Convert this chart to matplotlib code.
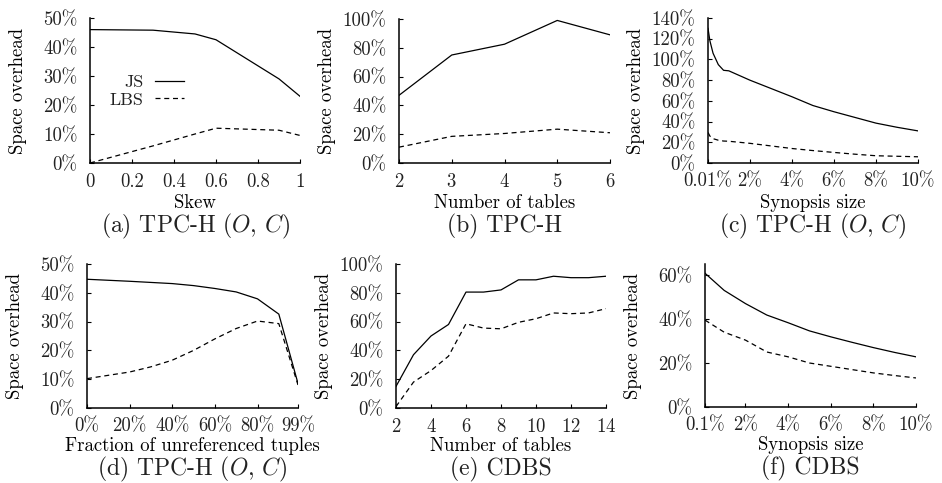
import numpy as np
import matplotlib
matplotlib.use("Agg")
import matplotlib.pyplot as plt

plt.rcParams.update({"font.family": "serif", "font.serif": ["cmr10", "DejaVu Serif"],
                     "mathtext.fontset": "cm", "axes.unicode_minus": False,
                     "axes.formatter.use_mathtext": True, "font.size": 13.5,
                     "axes.linewidth": 1.1, "xtick.direction": "in", "ytick.direction": "in",
                     "xtick.major.size": 3, "ytick.major.size": 3,
                     "xtick.major.width": 0.8, "ytick.major.width": 0.8,
                     "text.color": "#222222", "xtick.labelcolor": "#222222",
                     "ytick.labelcolor": "#222222"})

# ---- data (percent) ----
skew = [0, 0.3, 0.5, 0.6, 0.9, 1.0]
skew_js = [46, 45.8, 44.5, 42.5, 29, 23]
skew_lbs = [0, 5.9, 10, 12, 11.3, 9.5]

ntab_h = [2, 3, 4, 5, 6]
ntab_h_js = [47, 75, 82.5, 99, 89]
ntab_h_lbs = [11, 18.5, 20.5, 23.5, 21]

syn_h = [0.01, 0.1, 0.25, 0.5, 0.75, 1, 2, 3, 4, 5, 6, 7, 8, 9, 10]
syn_h_js = [130, 118, 106, 95, 89.5, 89, 80, 72, 64, 55.5, 49.5, 44, 38.5, 34.5, 31]
syn_h_lbs = [29.5, 26, 23.5, 22, 21.2, 21, 19, 16.5, 14, 12, 10.2, 8.5, 7, 6.5, 6]

unref = [0, 20, 30, 40, 50, 60, 70, 80, 90, 99]
unref_js = [44.7, 44, 43.6, 43.2, 42.5, 41.5, 40.3, 37.9, 32.6, 8.5]
unref_lbs = [10.2, 12.5, 14.3, 16.6, 20, 24, 27.6, 30.2, 29.3, 8]

ntab_c = [2, 3, 4, 5, 6, 7, 8, 9, 10, 11, 12, 13, 14]
ntab_c_js = [15, 37, 50, 58, 80.5, 80.5, 82, 89, 89, 91.5, 90.5, 90.5, 91.5]
ntab_c_lbs = [1, 18, 26, 36, 58.5, 55.5, 55, 59.5, 62, 66, 65.5, 66, 69]

syn_c = [0.1, 1, 2, 3, 4, 5, 6, 7, 8, 9, 10]
syn_c_js = [60.8, 53, 47, 41.8, 38.3, 34.6, 31.9, 29.4, 27, 24.8, 22.8]
syn_c_lbs = [39.5, 34, 30.4, 25, 22.8, 20, 18.5, 17, 15.5, 14.3, 13.2]

W, H = 942, 483
panels = [
    # x, js, lbs, (l, r, top, bottom px), xlim, ylim, xticks, xticklabels, yticks, xlabel, caption,
    # xlabel offset, caption offset (px below axis)
    (skew, skew_js, skew_lbs, (90, 300, 18, 163), (0, 1), (0, 50),
     [0, 0.2, 0.4, 0.6, 0.8, 1], ["0", "0.2", "0.4", "0.6", "0.8", "1"],
     range(0, 51, 10), "Skew", "(a) TPC-H ($O$, $C$)", 40, 63),
    (ntab_h, ntab_h_js, ntab_h_lbs, (399, 610, 19, 163), (2, 6), (0, 100),
     [2, 3, 4, 5, 6], None, range(0, 101, 20), "Number of tables", "(b) TPC-H", 40, 63),
    (syn_h, syn_h_js, syn_h_lbs, (708, 918, 18, 163), (0.01, 10), (0, 140),
     [0.01, 2, 4, 6, 8, 10], ["0.01%", "2%", "4%", "6%", "8%", "10%"],
     range(0, 141, 20), "Synopsis size", "(c) TPC-H ($O$, $C$)", 40, 63),
    (unref, unref_js, unref_lbs, (87, 298, 264, 408), (0, 99), (0, 50),
     [0, 20, 40, 60, 80, 99], ["0%", "20%", "40%", "60%", "80%", "99%"],
     range(0, 51, 10), "Fraction of unreferenced tuples", "(d) TPC-H ($O$, $C$)", 38, 61),
    (ntab_c, ntab_c_js, ntab_c_lbs, (396, 606, 264, 408), (2, 14), (0, 100),
     [2, 4, 6, 8, 10, 12, 14], None, range(0, 101, 20), "Number of tables", "(e) CDBS", 38, 61),
    (syn_c, syn_c_js, syn_c_lbs, (705, 916, 264, 407), (0.1, 10), (0, 65),
     [0.1, 2, 4, 6, 8, 10], ["0.1%", "2%", "4%", "6%", "8%", "10%"],
     range(0, 61, 20), "Synopsis size", "(f) CDBS", 38, 61),
]

fig = plt.figure(figsize=(W / 100, H / 100), dpi=100)
for k, (x, js, lbs, (l, r, t, b), xl, yl, xt, xtl, yt, xlab, cap, ly, cy) in enumerate(panels):
    ax = fig.add_axes([l / W, 1 - b / H, (r - l) / W, (b - t) / H])
    ax.plot(x, js, color="black", lw=0.9, label="JS")
    ax.plot(x, lbs, color="black", lw=0.9, dashes=(4, 3), label="LBS")
    ax.set_xlim(*xl); ax.set_ylim(*yl)
    ax.set_xticks(xt)
    if xtl is not None:
        ax.set_xticklabels(xtl)
    ax.set_yticks(list(yt))
    ax.set_yticklabels([f"{v}%" for v in yt])
    for s in ("top", "right"):
        ax.spines[s].set_visible(False)
    ax.tick_params(axis="y", pad=9)
    ax.tick_params(axis="x", pad=7)
    ax.set_xlabel(xlab)
    ax.xaxis.set_label_coords(0.5, -ly / (b - t))
    ax.xaxis.label.set_va("center")
    ax.set_ylabel("Space overhead")
    ax.yaxis.set_label_coords(-72 / (r - l), 0.5)
    ax.yaxis.label.set_va("center")
    fig.text((l + r) / 2 / W, 1 - (b + cy) / H, cap, ha="center", va="center", fontsize=17)
    if k == 0:
        ax.legend(loc="upper left", bbox_to_anchor=(0.095, 0.61), frameon=False,
                  markerfirst=False, handlelength=1.6, borderpad=0, borderaxespad=0,
                  labelspacing=0.1, handletextpad=0.6, fontsize=13)

fig.savefig("out.png", dpi=100)
